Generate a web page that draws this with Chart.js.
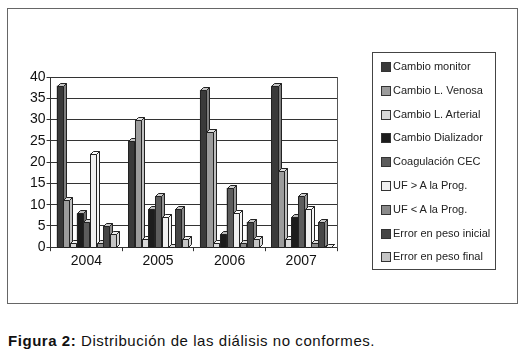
<!DOCTYPE html>
<html>
<head>
<meta charset="utf-8">
<script src="https://cdn.jsdelivr.net/npm/chart.js@4.4.1/dist/chart.umd.min.js"></script>
<style>
  html,body{margin:0;padding:0;background:#fff;width:525px;height:355px;overflow:hidden;}
  #frame{position:absolute;left:7px;top:8px;width:509px;height:294px;border:1px solid #666;}
  #wrap{position:absolute;left:0;top:0;width:525px;height:310px;}
  #legend{position:absolute;left:372px;top:52px;width:124px;height:218px;border:1px solid #444;box-sizing:border-box;padding-top:2px;font-family:"Liberation Sans",Arial,sans-serif;font-size:11px;color:#222;}
  .li{height:23.8px;line-height:23.8px;white-space:nowrap;position:relative;}
  .sw{position:absolute;left:8px;top:7px;width:8px;height:8px;border:1px solid #333;}
  .tx{position:absolute;left:20px;top:0;}
  #caption{position:absolute;left:8px;top:332px;font-family:"Liberation Sans",Arial,sans-serif;font-size:15px;letter-spacing:0.55px;color:#111;white-space:nowrap;}
</style>
</head>
<body>
<div id="frame"></div>
<div id="wrap"><canvas id="c" width="525" height="310"></canvas></div>
<div id="legend"></div>
<div id="caption"><b>Figura 2:</b> Distribución de las diálisis no conformes.</div>
<script>
const categories = ["2004", "2005", "2006", "2007"];
const seriesNames = ["Cambio monitor", "Cambio L. Venosa", "Cambio L. Arterial", "Cambio Dializador", "Coagulación CEC", "UF > A la Prog.", "UF < A la Prog.", "Error en peso inicial", "Error en peso final"];
const cambioMonitor = [38, 25, 37, 38];
const cambioVenosa = [11, 30, 27, 18];
const cambioArterial = [1, 2, 1, 2];
const cambioDializador = [8, 9, 3, 7];
const coagulacionCEC = [6, 12, 14, 12];
const ufMayor = [22, 7, 8, 9];
const ufMenor = [1, 0, 1, 1];
const errorInicial = [5, 9, 6, 6];
const errorFinal = [3, 2, 2, 0];
const yTicks = [0, 5, 10, 15, 20, 25, 30, 35, 40];

const seriesValues = [cambioMonitor, cambioVenosa, cambioArterial, cambioDializador, coagulacionCEC, ufMayor, ufMenor, errorInicial, errorFinal];
const colors = ["#3a3a3a", "#9c9c9c", "#d9d9d9", "#1c1c1c", "#5c5c5c", "#f0f0f0", "#8a8a8a", "#464646", "#c4c4c4"];

function shade(hex, f) {
  const n = parseInt(hex.slice(1), 16);
  let r = (n >> 16) & 255, g = (n >> 8) & 255, b = n & 255;
  if (f > 0) { r += (255 - r) * f; g += (255 - g) * f; b += (255 - b) * f; }
  else { r *= (1 + f); g *= (1 + f); b *= (1 + f); }
  return `rgb(${Math.round(r)},${Math.round(g)},${Math.round(b)})`;
}

const bar3d = {
  id: 'bar3d',
  afterDatasetsDraw(chart) {
    const ctx = chart.ctx;
    const d = 3;
    ctx.save();
    ctx.lineWidth = 1;
    ctx.strokeStyle = '#222';
    const n = chart.data.labels.length;
    for (let j = 0; j < n; j++) {
      chart.data.datasets.forEach((ds, i) => {
        const el = chart.getDatasetMeta(i).data[j];
        if (!el) return;
        const {x, y, width, base} = el.getProps(['x', 'y', 'width', 'base'], true);
        const l = Math.round(x - width / 2) + 0.5, r = Math.round(x + width / 2) + 0.5;
        const t = Math.round(y) + 0.5, b = Math.round(base) + 0.5;
        const c = colors[i];
        ctx.fillStyle = c;
        ctx.beginPath(); ctx.rect(l, t, r - l, b - t); ctx.fill(); ctx.stroke();
        ctx.fillStyle = shade(c, 0.35);
        ctx.beginPath();
        ctx.moveTo(r, t); ctx.lineTo(r + d, t - d); ctx.lineTo(r + d, b - d); ctx.lineTo(r, b); ctx.closePath();
        ctx.fill(); ctx.stroke();
        ctx.fillStyle = shade(c, 0.7);
        ctx.beginPath();
        ctx.moveTo(l, t); ctx.lineTo(l + d, t - d); ctx.lineTo(r + d, t - d); ctx.lineTo(r, t); ctx.closePath();
        ctx.fill(); ctx.stroke();
      });
    }
    ctx.restore();
  }
};

const chart = new Chart(document.getElementById('c'), {
  type: 'bar',
  data: {
    labels: categories,
    datasets: seriesNames.map((name, i) => ({
      label: name,
      data: seriesValues[i],
      backgroundColor: colors[i],
      borderColor: '#222',
      borderWidth: 1,
      categoryPercentage: 0.84,
      barPercentage: 0.92
    }))
  },
  options: {
    responsive: false,
    animation: false,
    layout: { padding: { left: 29, top: 77, right: 188, bottom: 38 } },
    plugins: { legend: { display: false }, tooltip: { enabled: false } },
    scales: {
      x: {
        grid: { offset: true, drawOnChartArea: false, drawTicks: true, tickLength: 4, color: '#333' },
        border: { display: true, color: '#333' },
        ticks: { color: '#111', font: { family: 'Liberation Sans', size: 14 }, padding: 2 }
      },
      y: {
        min: 0, max: 40,
        afterBuildTicks: (s) => { s.ticks = yTicks.map(v => ({ value: v })); },
        grid: { color: '#333', tickLength: 4, lineWidth: 1 },
        border: { display: true, color: '#333' },
        ticks: { color: '#111', font: { family: 'Liberation Sans', size: 14 }, padding: 1 }
      },
      y2: {
        position: 'right',
        grid: { drawOnChartArea: false, drawTicks: false },
        border: { display: true, color: '#555' },
        ticks: { display: false }
      }
    }
  },
  plugins: [bar3d]
});

const leg = document.getElementById('legend');
chart.data.datasets.forEach((ds) => {
  const row = document.createElement('div');
  row.className = 'li';
  const sw = document.createElement('span');
  sw.className = 'sw';
  sw.style.background = ds.backgroundColor;
  const tx = document.createElement('span');
  tx.className = 'tx';
  tx.textContent = ds.label;
  row.appendChild(sw); row.appendChild(tx);
  leg.appendChild(row);
});
</script>
</body>
</html>
